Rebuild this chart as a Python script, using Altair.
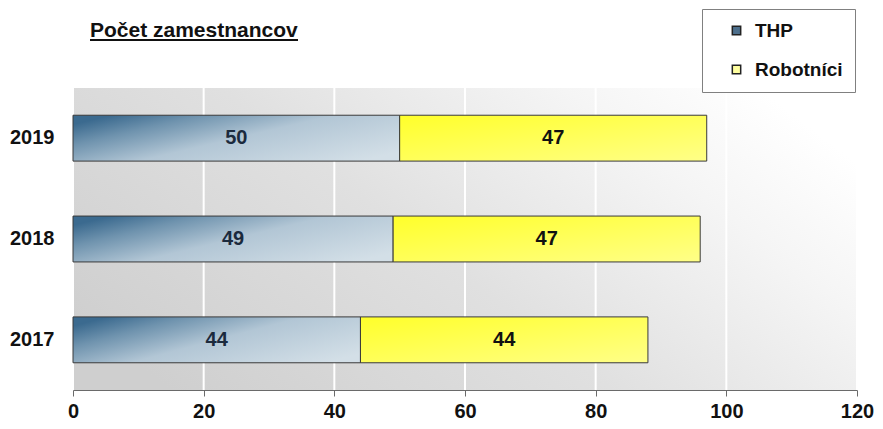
import altair as alt
import pandas as pd

# ---- data ----
years = ["2017", "2018", "2019"]
thp = [44, 49, 50]
robotnici = [44, 47, 47]
series = ["THP", "Robotníci"]
tick_values = [0, 20, 40, 60, 80, 100, 120]
title_text = "Počet zamestnancov"

# ---- tables built from the arrays ----
rows = []
for y, a, b in zip(years, thp, robotnici):
    rows.append({"year": y, "series": series[0], "start": 0, "end": a, "mid": a / 2, "value": a})
    rows.append({"year": y, "series": series[1], "start": a, "end": a + b, "mid": a + b / 2, "value": b})
df = pd.DataFrame(rows)
ticks_df = pd.DataFrame({"t": tick_values})

FONT = "Liberation Sans"
W, H = 784, 302
PAD_L, PAD_T = 65, 80

xscale = alt.Scale(domain=[0, 120], nice=False, zero=True)
yscale = alt.Scale(domain=years[::-1], paddingInner=0.545, paddingOuter=0.27)

bg_grad = alt.LinearGradient(
    gradient="linear", x1=0, y1=0.75, x2=1, y2=0.25,
    stops=[alt.GradientStop(offset=0, color="#cfcfcf"),
           alt.GradientStop(offset=0.45, color="#e0e0e0"),
           alt.GradientStop(offset=0.8, color="#f5f5f5"),
           alt.GradientStop(offset=1, color="#ffffff")])

thp_grad = alt.LinearGradient(
    gradient="linear", x1=0, y1=0.2, x2=1, y2=0.8,
    stops=[alt.GradientStop(offset=0, color="#3b6a8f"),
           alt.GradientStop(offset=0.2, color="#6f93ae"),
           alt.GradientStop(offset=0.5, color="#b2c6d5"),
           alt.GradientStop(offset=1, color="#d3dfe7")])

rob_grad = alt.LinearGradient(
    gradient="linear", x1=0, y1=0, x2=1, y2=1,
    stops=[alt.GradientStop(offset=0, color="#ffff2a"),
           alt.GradientStop(offset=1, color="#ffff88")])

x_axis = alt.Axis(values=tick_values, grid=False, title=None, labelFont=FONT,
                  labelFontSize=20, labelFontWeight="bold", labelColor="#111111",
                  domainColor="#6a6a6a", tickColor="#6a6a6a", tickSize=6,
                  labelPadding=5, labelFlush=False)
y_axis = alt.Axis(title=None, ticks=False, domain=False, labelFont=FONT,
                  labelFontSize=20, labelFontWeight="bold", labelColor="#111111",
                  labelPadding=19)

base = alt.Chart(df)

bg = alt.Chart(pd.DataFrame({"a": [0]})).mark_rect(fill=bg_grad).encode(
    x=alt.value(0), x2=alt.value("width"), y=alt.value(0), y2=alt.value("height"))

grid = alt.Chart(ticks_df).mark_rule(color="white", strokeWidth=2).encode(
    x=alt.X("t:Q", scale=xscale, axis=x_axis),
    y=alt.value(0), y2=alt.value("height"))

legend_layer = base.mark_square(opacity=0).encode(
    x=alt.X("mid:Q", scale=xscale, axis=x_axis),
    y=alt.Y("year:N", scale=yscale, axis=y_axis),
    color=alt.Color("series:N",
                    scale=alt.Scale(domain=series, range=["#4d6f8c", "#ffffa0"]),
                    legend=alt.Legend(
                        orient="none", legendX=702 - 8 - PAD_L, legendY=9 - 8 - PAD_T,
                        title=None,
                        labelFont=FONT, labelFontSize=19, labelFontWeight="bold",
                        labelColor="#111111", padding=12, strokeColor="#808080",
                        fillColor="white", rowPadding=19, symbolOffset=13,
                        labelOffset=9, symbolType="square", symbolSize=70,
                        symbolOpacity=1, symbolStrokeColor="#222222",
                        symbolStrokeWidth=1.5)))

bars_thp = base.transform_filter(alt.datum.series == series[0]).mark_bar(
    fill=thp_grad, stroke="#3a3a3a", strokeWidth=1).encode(
    x=alt.X("start:Q", scale=xscale, axis=x_axis),
    x2="end:Q",
    y=alt.Y("year:N", scale=yscale, axis=y_axis))

bars_rob = base.transform_filter(alt.datum.series == series[1]).mark_bar(
    fill=rob_grad, stroke="#3a3a3a", strokeWidth=1).encode(
    x=alt.X("start:Q", scale=xscale, axis=x_axis),
    x2="end:Q",
    y=alt.Y("year:N", scale=yscale, axis=y_axis))

labels = base.mark_text(font=FONT, fontSize=20, fontWeight="bold").encode(
    x=alt.X("mid:Q", scale=xscale, axis=x_axis),
    y=alt.Y("year:N", scale=yscale, axis=y_axis),
    text="value:Q",
    color=alt.condition(alt.datum.series == series[0], alt.value("#1b2a3d"), alt.value("#111111")))

title_mark = alt.Chart(pd.DataFrame({"label": [title_text]})).mark_text(
    font=FONT, fontSize=21, fontWeight="bold", color="#111111",
    align="left", baseline="alphabetic").encode(
    x=alt.value(90 - 8 - PAD_L), y=alt.value(-51), text="label:N")

underline = alt.Chart(pd.DataFrame({"a": [0]})).mark_rule(color="#111111", strokeWidth=2).encode(
    x=alt.value(90 - 8 - PAD_L), x2=alt.value(298 - 8 - PAD_L), y=alt.value(-48))

chart = alt.layer(bg, grid, legend_layer, bars_thp, bars_rob, labels, title_mark, underline).properties(
    width=W, height=H,
    autosize=alt.AutoSizeParams(type="none"),
    padding={"left": PAD_L, "top": PAD_T, "right": 17, "bottom": 30},
).configure_view(stroke=None).resolve_scale(color="independent")

chart.save("out.html", embed_options={"renderer": "svg", "actions": False})
